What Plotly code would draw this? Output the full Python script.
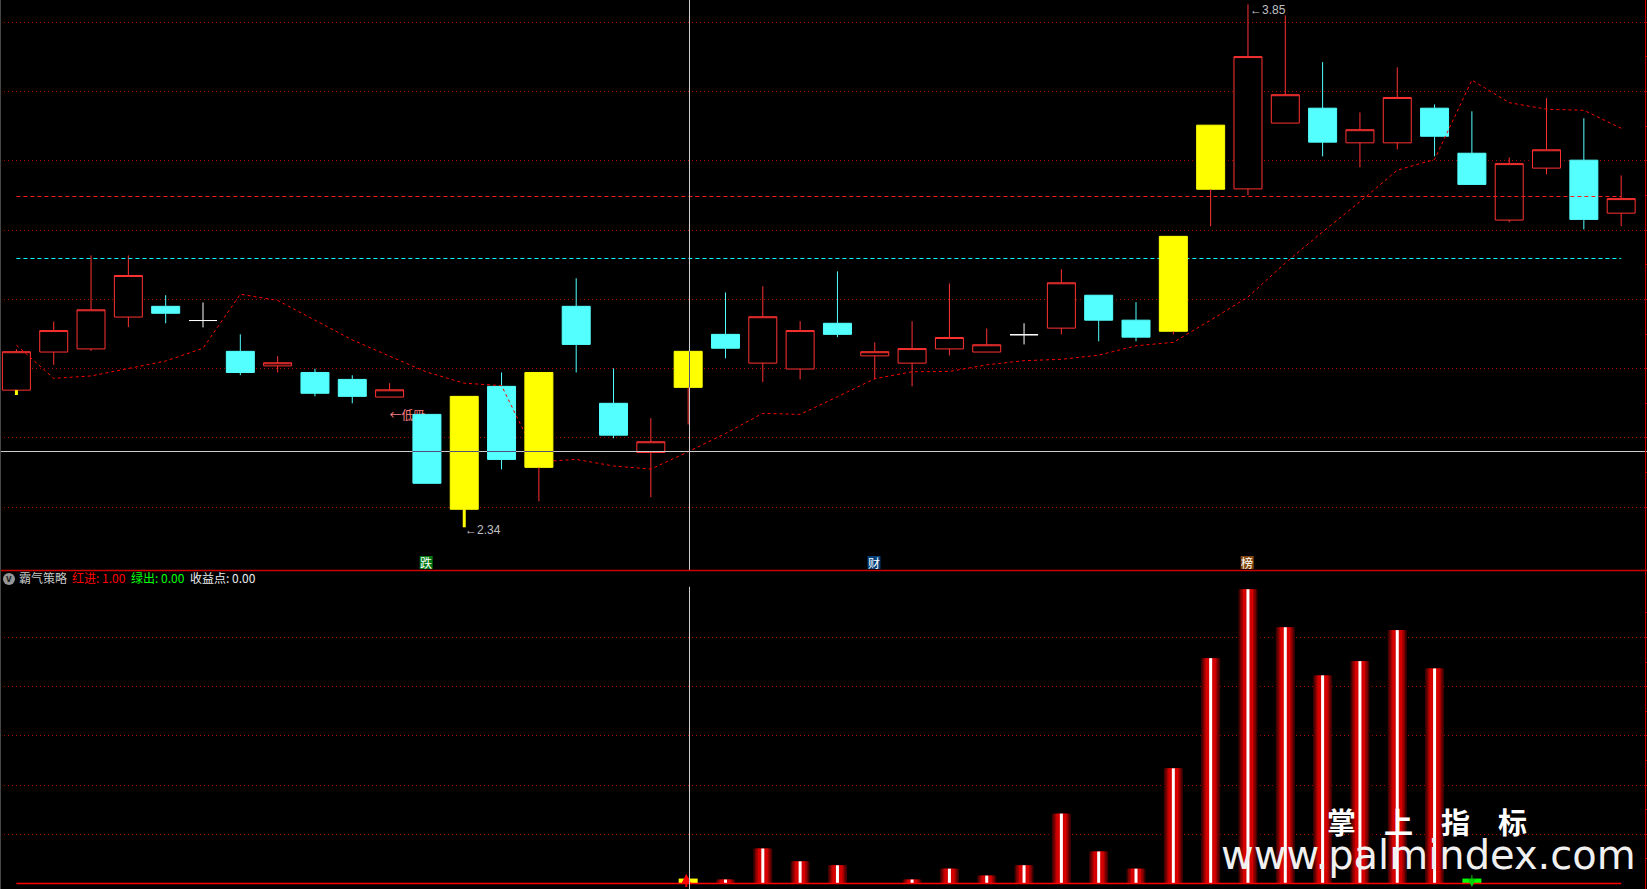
import plotly.graph_objects as go

# ---- price panel data ----
candle_kind = ["R","R","R","R","C","W","C","R","C","C","R","C","Y","C","Y","C","C","R","Y","C","R","R","C","R","R","R","R","W","R","C","C","Y","Y","R","R","C","R","R","C","C","R","R","C","R"]
body_top = [2.849,2.910,2.970,3.069,2.980,2.939,2.850,2.817,2.789,2.769,2.739,2.668,2.720,2.749,2.789,2.980,2.700,2.589,2.850,2.899,2.950,2.910,2.931,2.849,2.858,2.890,2.869,2.898,3.048,3.012,2.940,3.182,3.503,3.701,3.591,3.552,3.490,3.583,3.552,3.422,3.392,3.432,3.402,3.291]
body_bottom = [2.738,2.848,2.857,2.949,2.960,2.939,2.789,2.808,2.729,2.720,2.718,2.469,2.394,2.538,2.515,2.870,2.608,2.558,2.746,2.859,2.816,2.799,2.899,2.837,2.816,2.857,2.848,2.898,2.917,2.940,2.891,2.908,3.318,3.319,3.509,3.454,3.452,3.452,3.471,3.332,3.229,3.379,3.231,3.249]
high = [2.856,2.936,3.127,3.127,3.012,2.991,2.899,2.836,2.800,2.781,2.758,2.668,2.720,2.789,2.789,3.061,2.801,2.657,2.850,3.020,3.038,2.937,3.081,2.876,2.937,3.046,2.916,2.931,3.087,3.012,2.992,3.182,3.503,3.852,3.820,3.685,3.540,3.670,3.563,3.543,3.410,3.581,3.523,3.358]
low = [2.724,2.811,2.851,2.920,2.931,2.919,2.781,2.789,2.720,2.700,2.718,2.469,2.342,2.509,2.417,2.789,2.599,2.429,2.639,2.830,2.761,2.769,2.891,2.769,2.749,2.838,2.848,2.870,2.899,2.879,2.879,2.899,3.211,3.301,3.509,3.413,3.381,3.433,3.413,3.332,3.223,3.361,3.202,3.211]
ma_line = [2.868,2.772,2.779,2.801,2.822,2.859,3.015,2.997,2.940,2.883,2.836,2.790,2.758,2.751,2.531,2.538,2.519,2.510,2.560,2.613,2.671,2.668,2.719,2.771,2.791,2.792,2.811,2.823,2.827,2.839,2.866,2.876,2.940,3.007,3.105,3.195,3.282,3.373,3.404,3.633,3.568,3.549,3.546,3.494]
red_level = 3.2971
cyan_level = 3.1181
price_grid = [3.8,3.6,3.4,3.2,3.0,2.8,2.6,2.4]
price_minor = [3.7,3.5,3.3,3.1,2.9,2.7,2.5]
yellow_wicks = [0, 12]
red_wicks = [14, 18, 31, 32]
cross_i = 18.036
cross_price = 2.5608
low_label_price = 2.660

# ---- indicator panel data ----
bar_index = [19,20,21,22,24,25,26,27,28,29,30,31,32,33,34,35,36,37,38]
bar_value = [0.08,0.71,0.45,0.37,0.08,0.30,0.16,0.37,1.42,0.65,0.30,2.34,4.58,5.98,5.21,4.23,4.52,5.15,4.37]
ind_grid = [1,2,3,4,5]
ind_minor = [0.5,1.5,2.5,3.5,4.5,5.5]
buy_index, sell_index = 18, 39
signal_value = 0.1

# ---- layout geometry ----
W, H = 1647, 889
split = 1 - 570 / H
x_range = [-0.4394, 43.692]
y1_range = [2.2187, 3.8644]
y2_range = [-0.112, 6.372]
n = len(candle_kind)
RED, CYAN, YEL = "rgb(255,50,50)", "rgb(84,255,255)", "rgb(255,255,0)"
GREEN = "rgb(0,255,0)"
GRID = "rgb(170,0,0)"
FRAME = "rgb(205,0,0)"
CROSS = "rgb(205,205,205)"
CJK = "Noto Sans CJK SC"


def candles(idx, color, fill, xa="x", ya="y"):
    op = [body_bottom[i] if candle_kind[i] in "RW" else body_top[i] for i in idx]
    cl = [body_top[i] if candle_kind[i] in "RW" else body_bottom[i] for i in idx]
    lo = [body_bottom[i] if i in yellow_wicks + red_wicks else low[i] for i in idx]
    style = dict(line=dict(color=color, width=1), fillcolor=fill)
    return go.Candlestick(x=idx, open=op, high=[high[i] for i in idx], low=lo, close=cl,
                          increasing=style, decreasing=style, xaxis=xa, yaxis=ya, showlegend=False, hoverinfo="skip")


def line(x, y, color, width=1, dash=None, xa="x", ya="y"):
    return go.Scatter(x=x, y=y, mode="lines", line=dict(color=color, width=width, dash=dash), xaxis=xa, yaxis=ya,
                      showlegend=False, hoverinfo="skip")


def wick_segments(idx):
    xs, ys = [], []
    for k in idx:
        xs += [k, k, None]
        ys += [body_bottom[k], low[k], None]
    return xs, ys


fig = go.Figure()

# indicator bars: layered widths give the metal-tube shading
for width_px, col in [(19, "rgb(66,0,0)"), (16, "rgb(115,0,0)"), (13, "rgb(165,0,0)"), (10, "rgb(215,0,0)"), (3, "rgb(255,255,255)")]:
    fig.add_trace(go.Bar(x=bar_index, y=bar_value, width=[width_px / 37.32] * len(bar_index), marker=dict(color=col, line=dict(width=0)),
                         xaxis="x2", yaxis="y2", showlegend=False, hoverinfo="skip"))
fig.add_trace(go.Bar(x=[buy_index], y=[signal_value], width=[19 / 37.32], marker=dict(color=YEL, line=dict(width=0)), xaxis="x2", yaxis="y2", showlegend=False, hoverinfo="skip"))
fig.add_trace(go.Bar(x=[sell_index], y=[signal_value], width=[19 / 37.32], marker=dict(color=GREEN, line=dict(width=0)), xaxis="x2", yaxis="y2", showlegend=False, hoverinfo="skip"))
fig.add_trace(line([0, n - 1], [0, 0], "rgb(255,0,0)", 1.6, xa="x2", ya="y2"))
fig.add_trace(line([buy_index - 0.05, buy_index - 0.05], [0.1, -0.07], "rgb(255,0,0)", 2, xa="x2", ya="y2"))
fig.add_trace(line([sell_index, sell_index], [0.17, 0.0], "rgb(0,210,0)", 1, xa="x2", ya="y2"))
fig.add_trace(go.Scatter(x=[buy_index - 0.05], y=[0.2], mode="markers", marker=dict(symbol="arrow-up", size=10, color="rgb(255,0,0)", line=dict(width=0)), xaxis="x2", yaxis="y2", showlegend=False, hoverinfo="skip"))
fig.add_trace(go.Scatter(x=[sell_index], y=[-0.07], mode="markers", marker=dict(symbol="arrow-down", size=8, color="rgb(0,210,0)", line=dict(width=0)), xaxis="x2", yaxis="y2", showlegend=False, hoverinfo="skip"))
fig.add_trace(line([cross_i, cross_i], [y2_range[0], 6.03], CROSS, 1, xa="x2", ya="y2"))

# price candles
over = [i for i in range(n) if candle_kind[i] == "Y"]
fig.add_trace(candles([i for i in range(n) if candle_kind[i] == "R"], RED, "rgb(0,0,0)"))
fig.add_trace(candles([i for i in range(n) if candle_kind[i] == "C" and i != 11], CYAN, CYAN))
fig.add_trace(candles([i for i in range(n) if candle_kind[i] == "W"], "rgb(255,255,255)", "rgb(255,255,255)"))
xs, ys = wick_segments([0])
fig.add_trace(line(xs, ys, YEL, 3))
fig.add_trace(line([0, n - 1], [red_level, red_level], "rgb(255,30,30)", 1, "4px,3px"))
fig.add_trace(line([0, n - 1], [cyan_level, cyan_level], "rgb(0,255,255)", 1, "4px,3px"))
fig.add_trace(line(list(range(n)), ma_line, "rgb(255,0,0)", 1, "3px,3px"))
fig.add_trace(go.Scatter(x=[10.0], y=[low_label_price], mode="text", text=["←低吸"], textposition="middle right",
                         textfont=dict(family=CJK, size=12, color="rgb(255,128,128)"), showlegend=False, hoverinfo="skip"))

# overlay pane: these bodies hide the lines behind them
fig.add_trace(candles(over, YEL, YEL, "x3", "y3"))
fig.add_trace(candles([11], CYAN, CYAN, "x3", "y3"))
xs, ys = wick_segments([12])
fig.add_trace(line(xs, ys, YEL, 3, xa="x3", ya="y3"))
xs, ys = wick_segments(red_wicks)
fig.add_trace(line(xs, ys, RED, 1, xa="x3", ya="y3"))
fig.add_trace(line(x_range, [cross_price, cross_price], CROSS, 1, xa="x3", ya="y3"))
fig.add_trace(line([cross_i, cross_i], y1_range, CROSS, 1, xa="x3", ya="y3"))
for i in [11, 12, 13, 14]:
    fig.add_trace(line([i - 0.39, i + 0.39], [cross_price, cross_price], "rgb(80,80,120)", 1, xa="x3", ya="y3"))
fig.add_trace(line([cross_i, cross_i], [body_bottom[18], body_top[18]], "rgb(80,80,120)", 1, xa="x3", ya="y3"))

tags = [(11, "跌", "rgb(0,120,20)"), (23, "财", "rgb(0,60,120)"), (33, "榜", "rgb(130,70,10)")]
tag_half = 6.5 / 37.32


def price_axis(**kw):
    return dict(range=y1_range, fixedrange=True, **kw)


fig.update_layout(
    width=W, height=H, margin=dict(l=0, r=0, t=0, b=0, pad=0), autosize=False,
    paper_bgcolor="black", plot_bgcolor="black", showlegend=False,
    barmode="overlay", boxmode="overlay", boxgap=0.25, boxgroupgap=0,
    hovermode=False,
    xaxis=dict(domain=[0, 1], range=x_range, visible=False, anchor="y", rangeslider=dict(visible=False), fixedrange=True),
    xaxis2=dict(domain=[0, 1], range=x_range, visible=False, anchor="y2", fixedrange=True),
    xaxis3=dict(range=x_range, visible=False, overlaying="x", anchor="y3", rangeslider=dict(visible=False), fixedrange=True),
    yaxis=price_axis(domain=[split, 1], anchor="free", position=1644.5 / W, side="right", showline=True, linecolor=FRAME, linewidth=1,
                     showticklabels=False, ticks="outside", ticklen=3, tickcolor=FRAME, tickvals=price_grid,
                     minor=dict(tickvals=price_minor, ticks="outside", ticklen=3, tickcolor=FRAME, showgrid=False),
                     showgrid=True, gridcolor=GRID, gridwidth=1, griddash="1px,3px", zeroline=False),
    yaxis3=price_axis(overlaying="y", visible=False, anchor="x3", showgrid=False, zeroline=False),
    yaxis2=dict(domain=[0, split], range=y2_range, anchor="free", position=1644.5 / W, side="right", showline=True, linecolor=FRAME, linewidth=1,
                showticklabels=False, ticks="outside", ticklen=3, tickcolor=FRAME, tickvals=ind_grid,
                minor=dict(tickvals=ind_minor, ticks="outside", ticklen=3, tickcolor=FRAME, showgrid=False),
                showgrid=True, gridcolor=GRID, gridwidth=1, griddash="1px,3px", zeroline=False, fixedrange=True),
    shapes=[
        dict(type="line", xref="paper", yref="paper", x0=0, x1=1, y0=1 - 570.5 / H, y1=1 - 570.5 / H, line=dict(color=FRAME, width=1.6)),
        dict(type="line", xref="paper", yref="paper", x0=0.5 / W, x1=0.5 / W, y0=0, y1=1, line=dict(color="rgb(70,70,70)", width=1)),
        dict(type="circle", xref="paper", yref="paper", x0=3 / W, x1=15 / W, y0=1 - 585 / H, y1=1 - 573 / H,
             fillcolor="rgb(150,150,150)", line=dict(width=0)),
    ] + [
        dict(type="rect", xref="x", yref="paper", x0=i - 0.02 - tag_half, x1=i - 0.02 + tag_half, y0=1 - 569 / H, y1=1 - 556 / H,
             fillcolor=bg, line=dict(width=0)) for i, _, bg in tags
    ],
)


def px_note(text, x, y, color, size=12, anchor="left", family=CJK):
    fig.add_annotation(text=text, xref="paper", yref="paper", x=x / W, y=1 - y / H, xanchor=anchor, yanchor="middle",
                       showarrow=False, font=dict(family=family, size=size, color=color), borderpad=0)


# high / low marks
fig.add_annotation(text="←3.85", x=33, y=3.85, xref="x", yref="y", xanchor="left", yanchor="middle", yshift=-5, showarrow=False,
                   font=dict(family="Liberation Sans", size=12, color="rgb(192,192,192)"))
fig.add_annotation(text="←2.34", x=12, y=2.34, xref="x", yref="y", xanchor="left", yanchor="middle", yshift=-2, xshift=-1, showarrow=False,
                   font=dict(family="Liberation Sans", size=12, color="rgb(192,192,192)"))

# news tags on the panel edge
for i, ch, bg in tags:
    fig.add_annotation(text=ch, x=i - 0.02, xref="x", y=1 - 562 / H, yref="paper", xanchor="center", yanchor="middle", showarrow=False,
                       font=dict(family=CJK, size=12, color="white"), borderpad=0)

# indicator header
px_note("<b>v</b>", 9, 578.5, "rgb(30,30,30)", 10, "center", "Liberation Sans")
px_note("霸气策略", 18, 577.5, "rgb(200,200,200)")
px_note("红进: 1.00", 71, 577.5, "rgb(255,0,0)")
px_note("绿出: 0.00", 130, 577.5, "rgb(0,255,0)")
px_note("收益点: 0.00", 189, 577.5, "rgb(235,235,235)")

# watermark
for ch, cx in zip("掌上指标", [1341, 1398, 1455, 1512]):
    px_note("<b>%s</b>" % ch, cx, 821, "white", 29, "center")
px_note("www.palmindex.com", 1428, 855, "rgb(240,240,240)", 40, "center", "DejaVu Sans")

fig.write_html("out.html", post_script="document.body.style.margin='0';document.body.style.background='black';", config=dict(displayModeBar=False))
